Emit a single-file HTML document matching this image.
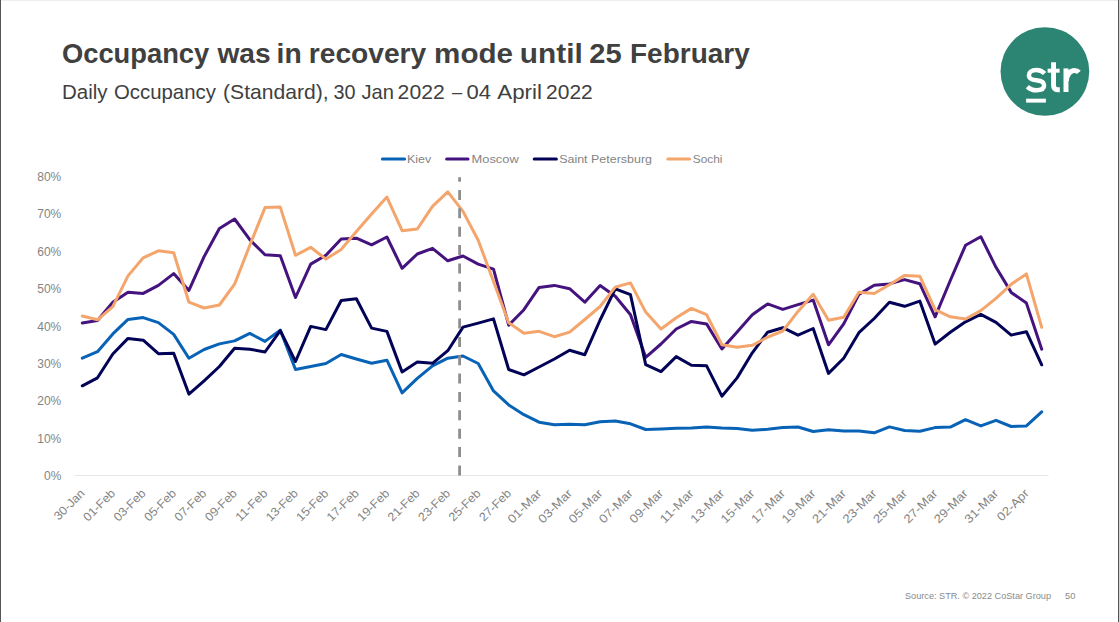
<!DOCTYPE html>
<html><head><meta charset="utf-8"><title>Occupancy</title>
<style>
html,body{margin:0;padding:0;background:#fff;}
body{width:1119px;height:622px;overflow:hidden;position:relative;font-family:"Liberation Sans",sans-serif;}
svg{position:absolute;left:0;top:0;}
svg text{font-family:"Liberation Sans",sans-serif;}
</style></head><body>
<svg width="1119" height="622" viewBox="0 0 1119 622">
<rect x="0" y="0" width="1119" height="622" fill="#fff"/>
<rect x="0" y="0" width="1119" height="1" fill="#eeeeee"/>
<rect x="0" y="0" width="1" height="622" fill="#555"/>
<rect x="1118" y="0" width="1" height="622" fill="#555"/>
<!-- title -->
<g font-size="28.4" font-weight="bold" fill="#404040"><text transform="translate(61.95 62.9) scale(0.9627 1)">Occupancy</text><text transform="translate(217.40 62.9) scale(0.9924 1)">was</text><text transform="translate(276.61 62.9) scale(0.9953 1)">in</text><text transform="translate(308.77 62.9) scale(0.9923 1)">recovery</text><text transform="translate(434.12 62.9) scale(1.0419 1)">mode</text><text transform="translate(519.86 62.9) scale(1.0489 1)">until</text><text transform="translate(589.27 62.9) scale(1.0252 1)">25</text><text transform="translate(630.03 62.9) scale(0.9853 1)">February</text></g>
<g font-size="19.4" fill="#404040"><text transform="translate(62.01 98.9) scale(1.0578 1)">Daily</text><text transform="translate(114.00 98.9) scale(1.0505 1)">Occupancy</text><text transform="translate(223.04 98.9) scale(1.0894 1)">(Standard),</text><text transform="translate(333.54 98.9) scale(1.0200 1)">30</text><text transform="translate(361.54 98.9) scale(1.0387 1)">Jan</text><text transform="translate(397.61 98.9) scale(1.0909 1)">2022</text><text transform="translate(451.90 98.9) scale(0.9395 1)">–</text><text transform="translate(466.45 98.9) scale(1.1358 1)">04</text><text transform="translate(497.30 98.9) scale(1.1493 1)">April</text><text transform="translate(546.12 98.9) scale(1.0812 1)">2022</text></g>
<!-- logo -->
<circle cx="1044.9" cy="71.5" r="44.35" fill="#2c8473"/>
<g fill="none" stroke="#fff" stroke-width="4.5" stroke-linecap="butt" stroke-linejoin="round">
<path d="M1044.6 73.6 C1042.4 71.2 1039.6 70.1 1036.2 70.1 C1031.6 70.1 1028.9 72.4 1028.9 75.4 C1028.9 78.6 1031.4 79.7 1036.4 80.2 C1041.4 80.7 1044.1 81.9 1044.1 85.3 C1044.1 88.5 1041.2 90.3 1036.6 90.3 C1032.8 90.3 1029.8 89.2 1027.4 86.6"/>
<path d="M1053.55 62.3 L1053.55 85.6 Q1053.55 89.7 1057.6 89.7 L1059.8 89.7" stroke-width="4.9"/>
<path d="M1066.0 68.4 L1066.0 92.0" stroke-width="5.0"/>
<path d="M1066.4 81 C1066.6 74.6 1070.2 70.5 1074.6 70.5 C1076.3 70.5 1077.8 71.1 1078.9 72.4" stroke-width="5.0"/>
</g>
<rect x="1047.6" y="68.7" width="12.0" height="4" fill="#fff"/>
<rect x="1026.1" y="98.7" width="19.8" height="3.9" fill="#fff"/>
<!-- legend -->
<g stroke-width="3" stroke-linecap="round" fill="none">
<line x1="382.4" y1="159.0" x2="404.6" y2="159.0" stroke="#0862b6"/>
<line x1="446.6" y1="159.0" x2="468" y2="159.0" stroke="#44137e"/>
<line x1="534.2" y1="159.0" x2="556.4" y2="159.0" stroke="#020256"/>
<line x1="667.8" y1="159.0" x2="689.6" y2="159.0" stroke="#f4a56c"/>
</g>
<g font-size="11.5" fill="#848484">
<text x="407" y="163.2" textLength="24.2" lengthAdjust="spacingAndGlyphs">Kiev</text>
<text x="471.5" y="163.2" textLength="47.3" lengthAdjust="spacingAndGlyphs">Moscow</text>
<text x="559.2" y="163.2" textLength="92.8" lengthAdjust="spacingAndGlyphs">Saint Petersburg</text>
<text x="692.8" y="163.2" textLength="29.7" lengthAdjust="spacingAndGlyphs">Sochi</text>
</g>
<!-- axis -->
<rect x="74.2" y="475" width="974.3" height="1" fill="#e6e6e6"/>
<text x="61.3" y="480.3" text-anchor="end" font-size="12" fill="#848484">0%</text>
<text x="61.3" y="442.9" text-anchor="end" font-size="12" fill="#848484">10%</text>
<text x="61.3" y="405.4" text-anchor="end" font-size="12" fill="#848484">20%</text>
<text x="61.3" y="368.0" text-anchor="end" font-size="12" fill="#848484">30%</text>
<text x="61.3" y="330.6" text-anchor="end" font-size="12" fill="#848484">40%</text>
<text x="61.3" y="293.2" text-anchor="end" font-size="12" fill="#848484">50%</text>
<text x="61.3" y="255.8" text-anchor="end" font-size="12" fill="#848484">60%</text>
<text x="61.3" y="218.3" text-anchor="end" font-size="12" fill="#848484">70%</text>
<text x="61.3" y="180.9" text-anchor="end" font-size="12" fill="#848484">80%</text>

<text x="85.5" y="494.0" text-anchor="end" transform="rotate(-45 85.5 494.0)" font-size="12" fill="#848484" textLength="37.8" lengthAdjust="spacingAndGlyphs">30-Jan</text>
<text x="116.0" y="494.0" text-anchor="end" transform="rotate(-45 116.0 494.0)" font-size="12" fill="#848484" textLength="39.6" lengthAdjust="spacingAndGlyphs">01-Feb</text>
<text x="146.4" y="494.0" text-anchor="end" transform="rotate(-45 146.4 494.0)" font-size="12" fill="#848484" textLength="39.6" lengthAdjust="spacingAndGlyphs">03-Feb</text>
<text x="176.9" y="494.0" text-anchor="end" transform="rotate(-45 176.9 494.0)" font-size="12" fill="#848484" textLength="39.6" lengthAdjust="spacingAndGlyphs">05-Feb</text>
<text x="207.3" y="494.0" text-anchor="end" transform="rotate(-45 207.3 494.0)" font-size="12" fill="#848484" textLength="39.6" lengthAdjust="spacingAndGlyphs">07-Feb</text>
<text x="237.8" y="494.0" text-anchor="end" transform="rotate(-45 237.8 494.0)" font-size="12" fill="#848484" textLength="39.6" lengthAdjust="spacingAndGlyphs">09-Feb</text>
<text x="268.2" y="494.0" text-anchor="end" transform="rotate(-45 268.2 494.0)" font-size="12" fill="#848484" textLength="39.6" lengthAdjust="spacingAndGlyphs">11-Feb</text>
<text x="298.7" y="494.0" text-anchor="end" transform="rotate(-45 298.7 494.0)" font-size="12" fill="#848484" textLength="39.6" lengthAdjust="spacingAndGlyphs">13-Feb</text>
<text x="329.1" y="494.0" text-anchor="end" transform="rotate(-45 329.1 494.0)" font-size="12" fill="#848484" textLength="39.6" lengthAdjust="spacingAndGlyphs">15-Feb</text>
<text x="359.6" y="494.0" text-anchor="end" transform="rotate(-45 359.6 494.0)" font-size="12" fill="#848484" textLength="39.6" lengthAdjust="spacingAndGlyphs">17-Feb</text>
<text x="390.1" y="494.0" text-anchor="end" transform="rotate(-45 390.1 494.0)" font-size="12" fill="#848484" textLength="39.6" lengthAdjust="spacingAndGlyphs">19-Feb</text>
<text x="420.5" y="494.0" text-anchor="end" transform="rotate(-45 420.5 494.0)" font-size="12" fill="#848484" textLength="39.6" lengthAdjust="spacingAndGlyphs">21-Feb</text>
<text x="451.0" y="494.0" text-anchor="end" transform="rotate(-45 451.0 494.0)" font-size="12" fill="#848484" textLength="39.6" lengthAdjust="spacingAndGlyphs">23-Feb</text>
<text x="481.4" y="494.0" text-anchor="end" transform="rotate(-45 481.4 494.0)" font-size="12" fill="#848484" textLength="39.6" lengthAdjust="spacingAndGlyphs">25-Feb</text>
<text x="511.9" y="494.0" text-anchor="end" transform="rotate(-45 511.9 494.0)" font-size="12" fill="#848484" textLength="39.6" lengthAdjust="spacingAndGlyphs">27-Feb</text>
<text x="542.3" y="494.0" text-anchor="end" transform="rotate(-45 542.3 494.0)" font-size="12" fill="#848484" textLength="42.3" lengthAdjust="spacingAndGlyphs">01-Mar</text>
<text x="572.8" y="494.0" text-anchor="end" transform="rotate(-45 572.8 494.0)" font-size="12" fill="#848484" textLength="42.3" lengthAdjust="spacingAndGlyphs">03-Mar</text>
<text x="603.3" y="494.0" text-anchor="end" transform="rotate(-45 603.3 494.0)" font-size="12" fill="#848484" textLength="42.3" lengthAdjust="spacingAndGlyphs">05-Mar</text>
<text x="633.7" y="494.0" text-anchor="end" transform="rotate(-45 633.7 494.0)" font-size="12" fill="#848484" textLength="42.3" lengthAdjust="spacingAndGlyphs">07-Mar</text>
<text x="664.2" y="494.0" text-anchor="end" transform="rotate(-45 664.2 494.0)" font-size="12" fill="#848484" textLength="42.3" lengthAdjust="spacingAndGlyphs">09-Mar</text>
<text x="694.6" y="494.0" text-anchor="end" transform="rotate(-45 694.6 494.0)" font-size="12" fill="#848484" textLength="42.3" lengthAdjust="spacingAndGlyphs">11-Mar</text>
<text x="725.1" y="494.0" text-anchor="end" transform="rotate(-45 725.1 494.0)" font-size="12" fill="#848484" textLength="42.3" lengthAdjust="spacingAndGlyphs">13-Mar</text>
<text x="755.5" y="494.0" text-anchor="end" transform="rotate(-45 755.5 494.0)" font-size="12" fill="#848484" textLength="42.3" lengthAdjust="spacingAndGlyphs">15-Mar</text>
<text x="786.0" y="494.0" text-anchor="end" transform="rotate(-45 786.0 494.0)" font-size="12" fill="#848484" textLength="42.3" lengthAdjust="spacingAndGlyphs">17-Mar</text>
<text x="816.4" y="494.0" text-anchor="end" transform="rotate(-45 816.4 494.0)" font-size="12" fill="#848484" textLength="42.3" lengthAdjust="spacingAndGlyphs">19-Mar</text>
<text x="846.9" y="494.0" text-anchor="end" transform="rotate(-45 846.9 494.0)" font-size="12" fill="#848484" textLength="42.3" lengthAdjust="spacingAndGlyphs">21-Mar</text>
<text x="877.4" y="494.0" text-anchor="end" transform="rotate(-45 877.4 494.0)" font-size="12" fill="#848484" textLength="42.3" lengthAdjust="spacingAndGlyphs">23-Mar</text>
<text x="907.8" y="494.0" text-anchor="end" transform="rotate(-45 907.8 494.0)" font-size="12" fill="#848484" textLength="42.3" lengthAdjust="spacingAndGlyphs">25-Mar</text>
<text x="938.3" y="494.0" text-anchor="end" transform="rotate(-45 938.3 494.0)" font-size="12" fill="#848484" textLength="42.3" lengthAdjust="spacingAndGlyphs">27-Mar</text>
<text x="968.7" y="494.0" text-anchor="end" transform="rotate(-45 968.7 494.0)" font-size="12" fill="#848484" textLength="42.3" lengthAdjust="spacingAndGlyphs">29-Mar</text>
<text x="999.2" y="494.0" text-anchor="end" transform="rotate(-45 999.2 494.0)" font-size="12" fill="#848484" textLength="42.3" lengthAdjust="spacingAndGlyphs">31-Mar</text>
<text x="1029.6" y="494.0" text-anchor="end" transform="rotate(-45 1029.6 494.0)" font-size="12" fill="#848484" textLength="39.2" lengthAdjust="spacingAndGlyphs">02-Apr</text>

<!-- series -->
<g fill="none" stroke-width="3.0" stroke-linejoin="round" stroke-linecap="round">
<polyline stroke="#0862b6" points="82.3,358.2 97.5,351.7 112.8,333.9 128.0,319.4 143.2,317.6 158.4,322.6 173.7,334.4 188.9,358.2 204.1,349.5 219.4,343.9 234.6,340.9 249.8,333.4 265.0,341.4 280.3,330.1 295.5,369.5 310.7,366.5 325.9,363.5 341.2,354.5 356.4,359.0 371.6,363.3 386.9,360.2 402.1,392.9 417.3,378.3 432.5,365.8 447.8,358.2 463.0,356.0 478.2,363.5 493.5,390.9 508.7,404.9 523.9,414.7 539.1,422.2 554.4,424.7 569.6,424.2 584.8,424.7 600.1,421.8 615.3,421.0 630.5,423.8 645.7,429.5 661.0,429.0 676.2,428.3 691.4,428.0 706.6,427.0 721.9,428.0 737.1,428.5 752.3,430.3 767.6,429.3 782.8,427.5 798.0,427.0 813.2,431.5 828.5,429.8 843.7,431.0 858.9,430.9 874.2,432.8 889.4,426.9 904.6,430.5 919.8,431.2 935.1,427.6 950.3,427.1 965.5,419.7 980.8,425.9 996.0,420.3 1011.2,426.5 1026.4,425.9 1041.7,411.8"/>
<polyline stroke="#44137e" points="82.3,323.0 97.5,320.5 112.8,302.2 128.0,292.2 143.2,293.4 158.4,285.4 173.7,273.6 188.9,290.4 204.1,256.6 219.4,228.5 234.6,219.0 249.8,239.7 265.0,254.8 280.3,255.8 295.5,297.5 310.7,264.1 325.9,255.3 341.2,239.0 356.4,238.2 371.6,244.8 386.9,237.0 402.1,268.3 417.3,254.0 432.5,248.3 447.8,260.8 463.0,256.0 478.2,264.1 493.5,269.1 508.7,325.2 523.9,309.7 539.1,287.4 554.4,285.4 569.6,288.7 584.8,302.2 600.1,285.5 615.3,296.3 630.5,314.7 645.7,357.3 661.0,344.0 676.2,329.0 691.4,321.4 706.6,323.9 721.9,349.0 737.1,332.0 752.3,314.7 767.6,303.9 782.8,309.4 798.0,304.6 813.2,300.1 828.5,344.8 843.7,323.9 858.9,294.4 874.2,285.2 889.4,283.9 904.6,279.6 919.8,283.7 935.1,316.8 950.3,280.5 965.5,245.3 980.8,236.7 996.0,267.3 1011.2,292.4 1026.4,303.1 1041.7,349.2"/>
<polyline stroke="#020256" points="82.3,385.8 97.5,377.8 112.8,354.0 128.0,338.4 143.2,340.2 158.4,353.7 173.7,353.2 188.9,394.1 204.1,380.8 219.4,366.5 234.6,348.2 249.8,349.2 265.0,352.0 280.3,330.6 295.5,361.5 310.7,326.4 325.9,329.6 341.2,300.5 356.4,298.8 371.6,328.1 386.9,331.4 402.1,372.0 417.3,362.0 432.5,363.3 447.8,350.7 463.0,327.1 478.2,323.1 493.5,318.9 508.7,369.5 523.9,374.8 539.1,367.0 554.4,359.0 569.6,350.2 584.8,354.7 600.1,320.0 615.3,288.8 630.5,294.7 645.7,364.6 661.0,371.6 676.2,356.6 691.4,365.3 706.6,365.8 721.9,396.2 737.1,377.9 752.3,352.8 767.6,332.2 782.8,327.7 798.0,335.2 813.2,328.5 828.5,373.4 843.7,358.3 858.9,332.7 874.2,318.5 889.4,302.2 904.6,306.3 919.8,301.1 935.1,344.1 950.3,332.3 965.5,321.8 980.8,314.4 996.0,322.3 1011.2,335.1 1026.4,331.7 1041.7,364.8"/>
<polyline stroke="#f4a56c" points="82.3,316.0 97.5,319.8 112.8,306.7 128.0,275.9 143.2,257.8 158.4,250.8 173.7,252.8 188.9,302.2 204.1,308.0 219.4,305.0 234.6,284.2 249.8,245.3 265.0,207.6 280.3,207.1 295.5,255.3 310.7,247.3 325.9,259.1 341.2,249.4 356.4,231.5 371.6,213.9 386.9,197.1 402.1,230.7 417.3,229.0 432.5,206.4 447.8,191.8 463.0,211.4 478.2,240.2 493.5,281.6 508.7,322.7 523.9,333.2 539.1,331.3 554.4,336.7 569.6,332.1 584.8,319.5 600.1,306.5 615.3,287.1 630.5,282.9 645.7,312.1 661.0,329.0 676.2,317.7 691.4,308.4 706.6,314.7 721.9,344.8 737.1,347.3 752.3,345.3 767.6,337.2 782.8,331.0 798.0,311.4 813.2,294.3 828.5,320.2 843.7,317.2 858.9,292.2 874.2,293.5 889.4,284.8 904.6,275.4 919.8,276.2 935.1,309.7 950.3,316.8 965.5,319.0 980.8,310.6 996.0,298.4 1011.2,284.3 1026.4,273.9 1041.7,327.4"/>
</g>
<!-- dashed -->
<line x1="459.6" y1="475.4" x2="459.6" y2="177.2" stroke="#8e8e8e" stroke-width="2.8" stroke-dasharray="10 8.36"/>
<!-- footer -->
<text x="905" y="599.2" font-size="9" fill="#8a8a8a" textLength="146" lengthAdjust="spacingAndGlyphs">Source: STR. © 2022 CoStar Group</text>
<text x="1065" y="599.2" font-size="9" fill="#8a8a8a" textLength="10.4" lengthAdjust="spacingAndGlyphs">50</text>
</svg>
</body></html>
